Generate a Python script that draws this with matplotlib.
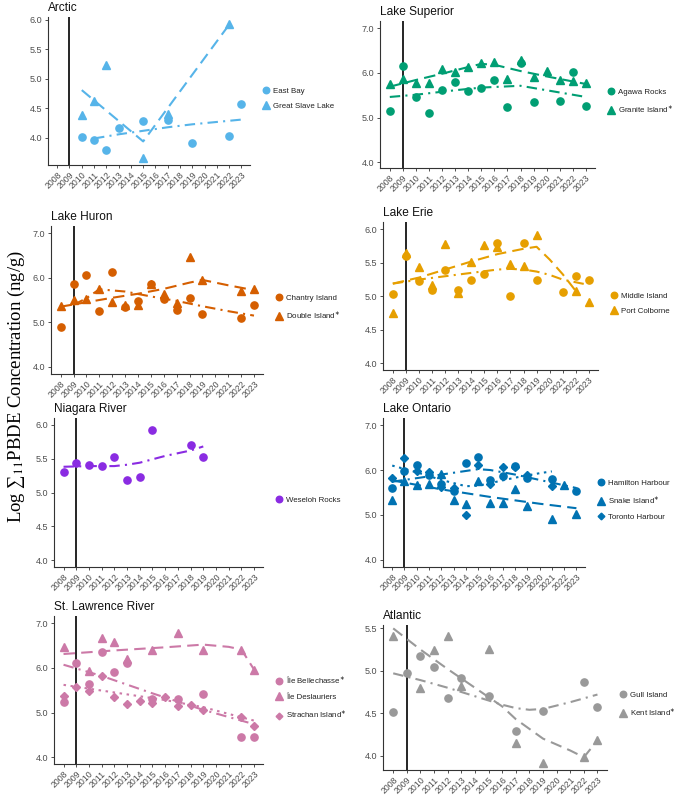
import matplotlib
matplotlib.use("Agg")
import matplotlib.pyplot as plt
from matplotlib.lines import Line2D
from matplotlib.font_manager import FontProperties

plt.rcParams['font.family'] = ['Liberation Sans', 'DejaVu Sans']
plt.rcParams['mathtext.fontset'] = 'stix'

years_all = list(range(2008, 2024))

# ---------------- Arctic ----------------
arc_eb_yr = [2010, 2011, 2012, 2013, 2015, 2017, 2019, 2022, 2023]
arc_eb_val = [4.02, 3.97, 3.80, 4.17, 4.29, 4.30, 3.92, 4.04, 4.58]
arc_gsl_yr = [2010, 2011, 2012, 2015, 2017, 2022]
arc_gsl_val = [4.38, 4.63, 5.24, 3.66, 4.41, 5.93]
arc_eb_fit_yr = [2011, 2013, 2015, 2017, 2019, 2021, 2023]
arc_eb_fit = [3.99, 4.06, 4.12, 4.18, 4.23, 4.27, 4.31]
arc_gsl_fit_yr = [2010, 2015, 2022]
arc_gsl_fit = [4.81, 3.94, 5.92]

# ---------------- Lake Superior ----------------
sup_ar_yr = [2008, 2009, 2010, 2011, 2012, 2013, 2014, 2015, 2016, 2017, 2018, 2019, 2021, 2022, 2023]
sup_ar_val = [5.14, 6.15, 5.47, 5.10, 5.61, 5.79, 5.59, 5.67, 5.85, 5.23, 6.22, 5.35, 5.36, 6.01, 5.26]
sup_gi_yr = years_all
sup_gi_val = [5.75, 5.86, 5.77, 5.78, 6.09, 6.01, 6.12, 6.22, 6.24, 5.87, 6.29, 5.90, 6.04, 5.85, 5.81, 5.78]
sup_ar_fit_yr = [2008, 2010, 2013, 2015, 2018, 2020, 2023]
sup_ar_fit = [5.46, 5.51, 5.61, 5.67, 5.71, 5.61, 5.46]
sup_gi_fit_yr = [2008, 2010, 2012, 2014, 2015, 2016, 2018, 2020, 2023]
sup_gi_fit = [5.69, 5.84, 5.98, 6.13, 6.20, 6.18, 6.04, 5.92, 5.75]

# ---------------- Lake Huron ----------------
hur_ci_yr = [2008, 2009, 2010, 2011, 2012, 2013, 2014, 2015, 2016, 2017, 2018, 2019, 2022, 2023]
hur_ci_val = [4.89, 5.87, 6.07, 5.25, 6.13, 5.35, 5.48, 5.85, 5.52, 5.28, 5.55, 5.19, 5.10, 5.39]
hur_di_yr = [2008, 2009, 2010, 2011, 2012, 2013, 2014, 2015, 2016, 2017, 2018, 2019, 2022, 2023]
hur_di_val = [5.37, 5.51, 5.53, 5.74, 5.46, 5.39, 5.39, 5.87, 5.63, 5.44, 6.47, 5.94, 5.71, 5.75]
hur_ci_fit_yr = [2009, 2010, 2011, 2013, 2015, 2017, 2019, 2021, 2023]
hur_ci_fit = [5.39, 5.54, 5.74, 5.69, 5.58, 5.48, 5.36, 5.25, 5.15]
hur_di_fit_yr = [2008, 2010, 2012, 2014, 2016, 2018, 2019, 2021, 2023]
hur_di_fit = [5.35, 5.45, 5.55, 5.64, 5.75, 5.89, 5.95, 5.83, 5.72]

# ---------------- Lake Erie ----------------
eri_mi_yr = [2008, 2009, 2010, 2011, 2012, 2013, 2014, 2015, 2016, 2017, 2018, 2019, 2021, 2022, 2023]
eri_mi_val = [5.03, 5.60, 5.23, 5.09, 5.40, 5.10, 5.24, 5.33, 5.79, 5.00, 5.79, 5.25, 5.07, 5.30, 5.25]
eri_pc_yr = [2008, 2009, 2010, 2011, 2012, 2013, 2014, 2015, 2016, 2017, 2018, 2019, 2022, 2023]
eri_pc_val = [4.75, 5.65, 5.44, 5.17, 5.78, 5.05, 5.52, 5.76, 5.73, 5.48, 5.45, 5.91, 5.08, 4.91]
eri_mi_fit_yr = [2008, 2010, 2012, 2014, 2016, 2017, 2018, 2019, 2020, 2021, 2022, 2023]
eri_mi_fit = [5.19, 5.25, 5.30, 5.35, 5.40, 5.41, 5.40, 5.37, 5.32, 5.25, 5.21, 5.17]
eri_pc_fit_yr = [2008, 2010, 2012, 2014, 2016, 2018, 2019, 2020, 2021, 2022]
eri_pc_fit = [5.19, 5.28, 5.40, 5.52, 5.63, 5.71, 5.74, 5.55, 5.33, 5.08]

# ---------------- Niagara River ----------------
nia_wr_yr = [2008, 2009, 2010, 2011, 2012, 2013, 2014, 2015, 2018, 2019]
nia_wr_val = [5.31, 5.44, 5.40, 5.39, 5.52, 5.19, 5.23, 5.93, 5.70, 5.53]
nia_wr_fit_yr = [2008, 2010, 2012, 2013, 2014, 2015, 2016, 2017, 2018, 2019]
nia_wr_fit = [5.38, 5.39, 5.39, 5.41, 5.44, 5.49, 5.54, 5.58, 5.62, 5.68]

# ---------------- Lake Ontario ----------------
ont_hh_yr = [2008, 2009, 2010, 2011, 2012, 2013, 2014, 2015, 2016, 2017, 2018, 2019, 2021, 2023]
ont_hh_val = [5.60, 5.97, 6.12, 5.90, 5.69, 5.54, 6.15, 6.28, 5.78, 5.86, 6.10, 5.82, 5.81, 5.54]
ont_si_yr = [2008, 2009, 2010, 2011, 2012, 2013, 2014, 2015, 2016, 2017, 2018, 2019, 2021, 2022, 2023]
ont_si_val = [5.33, 5.76, 5.67, 5.70, 5.91, 5.34, 5.25, 5.76, 5.26, 5.26, 5.58, 5.21, 4.90, 5.66, 5.01]
ont_th_yr = [2008, 2009, 2010, 2011, 2012, 2013, 2014, 2015, 2016, 2017, 2018, 2019, 2021]
ont_th_val = [5.82, 6.27, 5.97, 5.96, 5.63, 5.61, 4.99, 6.12, 5.69, 6.06, 6.06, 5.88, 5.64]
ont_hh_fit_yr = [2008, 2010, 2012, 2014, 2015, 2016, 2018, 2020, 2022, 2023]
ont_hh_fit = [5.74, 5.82, 5.90, 5.98, 6.02, 6.00, 5.90, 5.78, 5.66, 5.60]
ont_si_fit_yr = [2008, 2012, 2016, 2020, 2023]
ont_si_fit = [5.77, 5.57, 5.40, 5.25, 5.15]
ont_th_fit_yr = [2008, 2010, 2012, 2014, 2015, 2016, 2018, 2020, 2021]
ont_th_fit = [6.10, 5.95, 5.78, 5.64, 5.65, 5.71, 5.83, 5.93, 5.97]

# ---------------- St. Lawrence River ----------------
stl_ib_yr = [2008, 2009, 2010, 2011, 2012, 2013, 2015, 2017, 2019, 2022, 2023]
stl_ib_val = [5.23, 6.10, 5.65, 6.36, 5.91, 6.10, 5.31, 5.31, 5.41, 4.45, 4.45]
stl_id_yr = [2008, 2010, 2011, 2012, 2013, 2015, 2017, 2019, 2022, 2023]
stl_id_val = [6.47, 5.93, 6.66, 6.58, 6.20, 6.40, 6.77, 6.40, 6.40, 5.95]
stl_si_yr = [2008, 2009, 2010, 2011, 2012, 2013, 2014, 2015, 2016, 2017, 2018, 2019, 2022, 2023]
stl_si_val = [5.38, 5.58, 5.48, 5.81, 5.34, 5.19, 5.27, 5.22, 5.35, 5.15, 5.16, 5.05, 4.89, 4.69]
stl_ib_fit_yr = [2008, 2011, 2015, 2019, 2023]
stl_ib_fit = [6.07, 5.82, 5.43, 5.06, 4.74]
stl_id_fit_yr = [2008, 2012, 2016, 2019, 2021, 2022, 2023]
stl_id_fit = [6.31, 6.39, 6.46, 6.52, 6.47, 6.41, 5.96]
stl_si_fit_yr = [2008, 2012, 2016, 2019, 2023]
stl_si_fit = [5.62, 5.45, 5.28, 5.12, 4.82]

# ---------------- Atlantic ----------------
atl_gi_yr = [2008, 2009, 2010, 2011, 2012, 2013, 2015, 2017, 2019, 2022, 2023]
atl_gi_val = [4.51, 4.97, 5.17, 5.04, 4.68, 4.91, 4.70, 4.29, 4.53, 4.87, 4.57]
atl_ki_yr = [2008, 2010, 2011, 2012, 2013, 2015, 2017, 2019, 2022, 2023]
atl_ki_val = [5.41, 4.80, 5.25, 5.41, 4.82, 5.26, 4.15, 3.91, 3.98, 4.18]
atl_gi_fit_yr = [2008, 2010, 2012, 2014, 2016, 2017, 2018, 2019, 2021, 2023]
atl_gi_fit = [4.97, 4.89, 4.80, 4.70, 4.60, 4.56, 4.54, 4.55, 4.63, 4.72]
atl_ki_fit_yr = [2008, 2010, 2012, 2014, 2016, 2017, 2019, 2021, 2022, 2023]
atl_ki_fit = [5.50, 5.25, 5.02, 4.80, 4.58, 4.43, 4.20, 4.06, 3.98, 4.18]

# ---------------- styling ----------------
W, H = 678, 795
fig = plt.figure(figsize=(W / 100, H / 100), dpi=100)

DASH = (0, (5.5, 3))
DASHDOT = (0, (5, 2.5, 1, 2.5))
DOT = (0, (1.2, 2.2))
MK = {'o': 5.2, '^': 6.2, 'D': 3.8}
LEG_FONT = FontProperties(family=['Liberation Sans', 'DejaVu Sans'], size=5.7,
                          math_fontfamily='dejavusans')
STAR = r'$^{\ast}$'


def add_axes(px):
    x0, y0, x1, y1 = px
    return fig.add_axes([x0 / W, 1 - y1 / H, (x1 - x0) / W, (y1 - y0) / H])


def panel(px, title, color, ylim, yticks, series, fits):
    ax = add_axes(px)
    ax.set_xlim(2007.25, 2023.7)
    ax.set_ylim(*ylim)
    ax.axvline(2009, color='black', lw=1.2, zorder=1)
    for yr, fv, ls in fits:
        ax.plot(yr, fv, color=color, lw=1.5, ls=ls, zorder=2)
    handles = []
    for yr, val, mk, lab in series:
        ax.plot(yr, val, ls='none', marker=mk, ms=MK[mk], color=color,
                mec=color, zorder=3)
        handles.append(Line2D([], [], ls='none', marker=mk, ms=MK[mk] * 0.9,
                              color=color, label=lab))
    ax.set_xticks(years_all)
    ax.set_xticklabels([str(y) for y in years_all], rotation=45, ha='right',
                       rotation_mode='anchor', fontsize=6.3, color='#4d4d4d')
    ax.set_yticks(yticks)
    ax.set_yticklabels([f"{v:.1f}" for v in yticks], fontsize=6.5, color='#4d4d4d')
    ax.tick_params(length=2.5, width=0.6, color='#333333', pad=1.5)
    for s in ['top', 'right']:
        ax.spines[s].set_visible(False)
    for s in ['left', 'bottom']:
        ax.spines[s].set_color('#333333')
        ax.spines[s].set_linewidth(0.8)
    ax.set_title(title, loc='left', fontsize=8.6, pad=4, color='#111111')
    ax.legend(handles=handles, loc='center left', bbox_to_anchor=(1.02, 0.45),
              frameon=False, prop=LEG_FONT, handletextpad=0.3, labelspacing=0.95,
              handlelength=1.2, labelcolor='#222222')
    return ax


panel((48, 17, 250, 165), 'Arctic', '#56B4E9', (3.54, 6.05), [4.0, 4.5, 5.0, 5.5, 6.0],
      [(arc_eb_yr, arc_eb_val, 'o', 'East Bay'),
       (arc_gsl_yr, arc_gsl_val, '^', 'Great Slave Lake')],
      [(arc_eb_fit_yr, arc_eb_fit, DASHDOT), (arc_gsl_fit_yr, arc_gsl_fit, DASH)])

panel((380, 21, 595, 168), 'Lake Superior', '#009E73', (3.87, 7.16), [4.0, 5.0, 6.0, 7.0],
      [(sup_ar_yr, sup_ar_val, 'o', 'Agawa Rocks'),
       (sup_gi_yr, sup_gi_val, '^', 'Granite Island' + STAR)],
      [(sup_ar_fit_yr, sup_ar_fit, DASHDOT), (sup_gi_fit_yr, sup_gi_fit, DASH)])

panel((51, 226, 263, 374), 'Lake Huron', '#D55E00', (3.84, 7.16), [4.0, 5.0, 6.0, 7.0],
      [(hur_ci_yr, hur_ci_val, 'o', 'Chantry Island'),
       (hur_di_yr, hur_di_val, '^', 'Double Island' + STAR)],
      [(hur_ci_fit_yr, hur_ci_fit, DASHDOT), (hur_di_fit_yr, hur_di_fit, DASH)])

panel((383, 222, 598, 370), 'Lake Erie', '#E69F00', (3.90, 6.11), [4.0, 4.5, 5.0, 5.5, 6.0],
      [(eri_mi_yr, eri_mi_val, 'o', 'Middle Island'),
       (eri_pc_yr, eri_pc_val, '^', 'Port Colborne')],
      [(eri_mi_fit_yr, eri_mi_fit, DASHDOT), (eri_pc_fit_yr, eri_pc_fit, DASH)])

panel((54, 418, 263, 567), 'Niagara River', '#8A2BE2', (3.90, 6.10), [4.0, 4.5, 5.0, 5.5, 6.0],
      [(nia_wr_yr, nia_wr_val, 'o', 'Weseloh Rocks')],
      [(nia_wr_fit_yr, nia_wr_fit, DASHDOT)])

panel((383, 418, 585, 567), 'Lake Ontario', '#0072B2', (3.84, 7.16), [4.0, 5.0, 6.0, 7.0],
      [(ont_hh_yr, ont_hh_val, 'o', 'Hamilton Harbour'),
       (ont_si_yr, ont_si_val, '^', 'Snake Island' + STAR),
       (ont_th_yr, ont_th_val, 'D', 'Toronto Harbour')],
      [(ont_hh_fit_yr, ont_hh_fit, DASHDOT), (ont_si_fit_yr, ont_si_fit, DASH),
       (ont_th_fit_yr, ont_th_fit, DOT)])

panel((54, 616, 263, 764), 'St. Lawrence River', '#CC79A7', (3.85, 7.16), [4.0, 5.0, 6.0, 7.0],
      [(stl_ib_yr, stl_ib_val, 'o', 'Île Bellechasse' + STAR),
       (stl_id_yr, stl_id_val, '^', 'Île Deslauriers'),
       (stl_si_yr, stl_si_val, 'D', 'Strachan Island' + STAR)],
      [(stl_ib_fit_yr, stl_ib_fit, DASHDOT), (stl_id_fit_yr, stl_id_fit, DASH),
       (stl_si_fit_yr, stl_si_fit, DOT)])

panel((383, 625, 607, 770), 'Atlantic', '#999999', (3.83, 5.54), [4.0, 4.5, 5.0, 5.5],
      [(atl_gi_yr, atl_gi_val, 'o', 'Gull Island'),
       (atl_ki_yr, atl_ki_val, '^', 'Kent Island' + STAR)],
      [(atl_gi_fit_yr, atl_gi_fit, DASHDOT), (atl_ki_fit_yr, atl_ki_fit, DASH)])

fig.text(0.024, 1 - 386 / H, 'Log \u2211$_{11}$PBDE Concentration (ng/g)',
         rotation=90, ha='center', va='center', fontsize=13.5,
         family=['Liberation Serif', 'DejaVu Serif'])

fig.savefig('out.png', dpi=100)
